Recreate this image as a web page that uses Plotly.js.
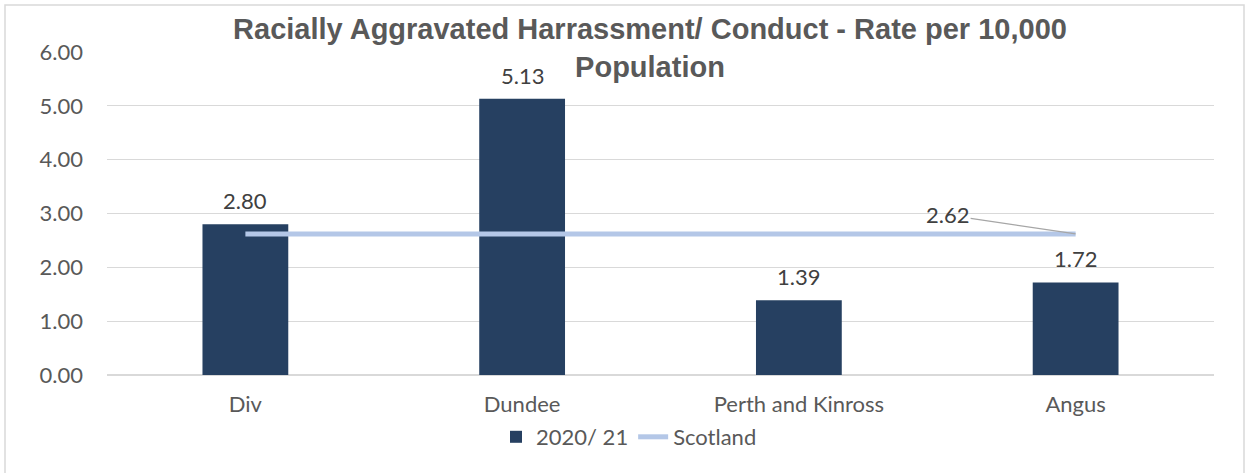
<!DOCTYPE html>
<html>
<head>
<meta charset="utf-8">
<script src="https://cdn.plot.ly/plotly-3.0.1.min.js"></script>
<style>html,body{margin:0;padding:0;background:#fff;}#chart{width:1247px;height:473px;}</style>
</head>
<body>
<div id="chart"></div>
<script>
const categories = ["Div", "Dundee", "Perth and Kinross", "Angus"];
const rate2020 = [2.80, 5.13, 1.39, 1.72];
const scotland = [2.62, 2.62, 2.62, 2.62];
const seriesNames = ["2020/ 21", "Scotland"];
const titleText = "Racially Aggravated Harrassment/ Conduct - Rate per 10,000<br>Population";

const W = 1247, H = 473;
const L = 107, R = 33, T = 52, B = 98;
const pw = W - L - R, ph = H - T - B;

const bodyFont = "Lato, 'Liberation Sans', sans-serif";

const traces = [
  {
    type: "bar", name: seriesNames[0], x: categories, y: rate2020,
    marker: {color: "#264061"}, width: 0.31, hoverinfo: "x+y"
  },
  {
    type: "scatter", mode: "lines", name: seriesNames[1], x: categories, y: scotland,
    line: {color: "#B4C7E7", width: 5}, hoverinfo: "x+y"
  }
];

const annotations = rate2020.map((v, i) => ({
  x: categories[i], y: v, xref: "x", yref: "y",
  text: v.toFixed(2), showarrow: false, yanchor: "bottom", yshift: 8,
  font: {family: bodyFont, size: 22, color: "#404040"}
}));
const last = scotland.length - 1;
annotations.push({
  x: categories[last], y: scotland[last], xref: "x", yref: "y",
  text: scotland[last].toFixed(2), showarrow: true, arrowhead: 0,
  arrowcolor: "#A6A6A6", arrowwidth: 1.2, ax: -128, ay: -19, standoff: 0,
  font: {family: bodyFont, size: 22, color: "#404040"}
});

const layout = {
  width: W, height: H,
  margin: {l: L, r: R, t: T, b: B},
  paper_bgcolor: "#ffffff", plot_bgcolor: "#ffffff",
  showlegend: true,
  title: {
    text: titleText, xref: "container", yref: "container",
    x: 650 / W, xanchor: "center", y: 1 - 39 / H, yanchor: "middle",
    font: {family: "'Liberation Sans', Arial, sans-serif", size: 29, color: "#595959", weight: "bold"}
  },
  xaxis: {
    type: "category", showgrid: false, zeroline: false, showline: false,
    ticks: "", ticklabelstandoff: 14,
    tickfont: {family: bodyFont, size: 22, color: "#595959"}
  },
  yaxis: {
    range: [0, 6], dtick: 1, tick0: 0, tickformat: ".2f",
    showgrid: true, gridcolor: "#D9D9D9", gridwidth: 1.3,
    zeroline: true, zerolinecolor: "#D9D9D9", zerolinewidth: 1.3,
    showline: false, ticks: "", ticklabelstandoff: 23,
    tickfont: {family: bodyFont, size: 22, color: "#595959"}
  },
  legend: {
    orientation: "h", x: (629 - L) / pw, xanchor: "center",
    y: -(437 - (T + ph)) / ph, yanchor: "middle",
    font: {family: bodyFont, size: 22, color: "#595959"},
    bgcolor: "rgba(0,0,0,0)"
  },
  annotations: annotations,
  shapes: [{
    type: "rect", xref: "paper", yref: "paper",
    x0: (5 - L) / pw, x1: (1244 - L) / pw,
    y0: (T + ph - 485) / ph, y1: (T + ph - 5) / ph,
    line: {color: "#D9D9D9", width: 1.5}, fillcolor: "rgba(0,0,0,0)", layer: "below"
  }],
  bargap: 0.69
};

Plotly.newPlot("chart", traces, layout, {displayModeBar: false, staticPlot: true});
</script>
</body>
</html>
